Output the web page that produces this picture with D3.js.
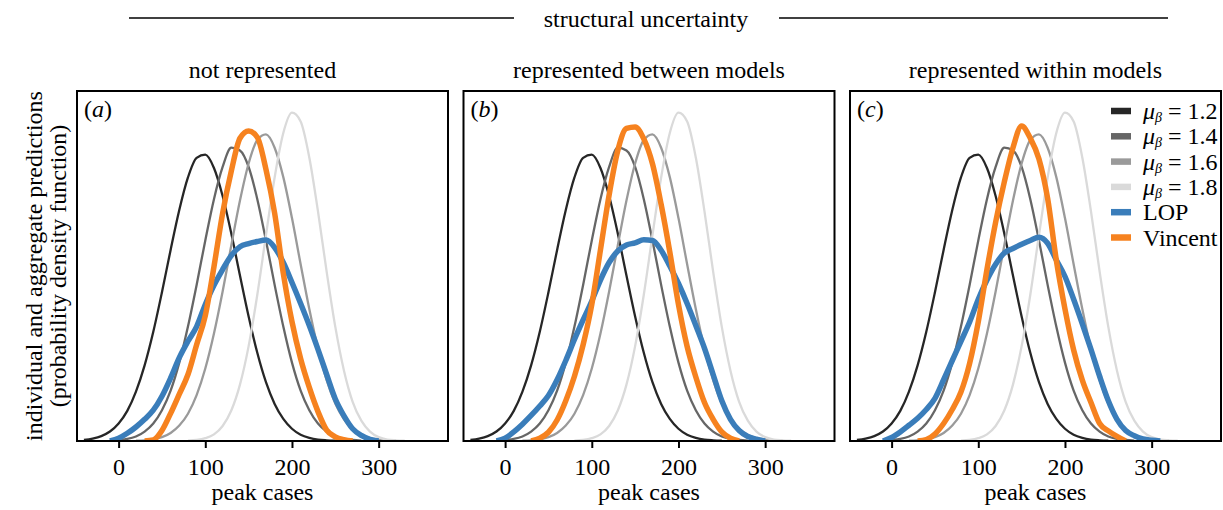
<!DOCTYPE html>
<html lang="en">
<head>
<meta charset="utf-8">
<style>
    body { margin: 0; background: #fff; }
    svg { display: block; font-family: "Liberation Serif", "DejaVu Serif", serif; }
</style>
</head>
<body>

<script type='text/javascript' src='https://d3js.org/d3.v7.min.js'></script>

<svg width="1223" height="510"></svg>

<script>
    // peak cases grid (x) shared by every curve
    var peakCases = [-40, -30, -20, -10, 0, 10, 20, 30, 40, 50, 60, 70, 80, 90, 100, 110, 120, 130, 140,
        150, 160, 170, 180, 190, 200, 210, 220, 230, 240, 250, 260, 270, 280, 290, 300, 310, 320, 330];

    // individual model densities (same in every panel), null = not drawn
    var mu12 = [0.003, 0.007, 0.014, 0.027, 0.050, 0.086, 0.141, 0.216, 0.312, 0.425, 0.546, 0.660, 0.753, 0.809,
        0.818, 0.780, 0.700, 0.593, 0.473, 0.356, 0.252, 0.168, 0.106, 0.063, 0.035, 0.018, 0.009, 0.004, 0.002, 0.001,
        null, null, null, null, null, null, null, null];
    var mu14 = [null, null, null, 0.001, 0.003, 0.006, 0.013, 0.027, 0.050, 0.088, 0.144, 0.224, 0.327, 0.446,
        0.573, 0.691, 0.783, 0.838, 0.830, 0.783, 0.691, 0.573, 0.446, 0.327, 0.224, 0.144, 0.088, 0.050, 0.027, 0.013,
        0.006, 0.003, 0.001, null, null, null, null, null];
    var mu16 = [null, null, null, null, null, null, 0.001, 0.002, 0.005, 0.011, 0.023, 0.044, 0.078, 0.131,
        0.207, 0.307, 0.427, 0.559, 0.687, 0.793, 0.860, 0.876, 0.838, 0.754, 0.637, 0.505, 0.377, 0.264, 0.174, 0.107,
        0.062, 0.034, 0.017, 0.008, 0.004, 0.002, 0.001, null];
    var mu18 = [null, null, null, null, null, null, null, null, null, null, null, null, 0.001, 0.003,
        0.008, 0.019, 0.043, 0.087, 0.161, 0.271, 0.418, 0.588, 0.753, 0.880, 0.938, 0.913, 0.810, 0.656, 0.484, 0.326,
        0.201, 0.112, 0.058, 0.027, 0.011, 0.004, 0.002, 0.001];

    // aggregate predictions per panel
    var lopA = [null, null, null, 0, 0.008, 0.022, 0.040, 0.062, 0.088, 0.128, 0.180, 0.238, 0.285, 0.327,
        0.390, 0.445, 0.490, 0.530, 0.555, 0.564, 0.570, 0.574, 0.553, 0.510, 0.453, 0.393, 0.330, 0.262, 0.190, 0.120,
        0.072, 0.035, 0.016, 0.005, 0, null, null, null];
    var vincentA = [null, null, null, null, null, null, null, 0, 0.003, 0.030, 0.079, 0.134, 0.190, 0.275,
        0.358, 0.498, 0.651, 0.771, 0.865, 0.886, 0.868, 0.776, 0.651, 0.479, 0.341, 0.235, 0.153, 0.084, 0.031, 0.012,
        0.004, 0, null, null, null, null, null, null];
    var lopB = [null, null, null, 0, 0.008, 0.026, 0.048, 0.073, 0.100, 0.130, 0.175, 0.230, 0.290, 0.346,
        0.400, 0.460, 0.510, 0.543, 0.560, 0.566, 0.575, 0.573, 0.545, 0.500, 0.450, 0.393, 0.330, 0.265, 0.190, 0.115,
        0.062, 0.030, 0.013, 0.005, 0, null, null, null];
    var vincentB = [null, null, null, null, null, null, null, 0, 0.008, 0.025, 0.060, 0.115, 0.185, 0.275,
        0.390, 0.546, 0.703, 0.830, 0.893, 0.897, 0.863, 0.792, 0.676, 0.540, 0.390, 0.270, 0.183, 0.110, 0.062, 0.026,
        0.008, 0, null, null, null, null, null, null];
    var lopC = [null, null, null, 0, 0.010, 0.026, 0.045, 0.065, 0.090, 0.122, 0.175, 0.230, 0.285, 0.340,
        0.405, 0.460, 0.505, 0.537, 0.550, 0.562, 0.573, 0.582, 0.565, 0.517, 0.470, 0.405, 0.335, 0.262, 0.185, 0.115,
        0.062, 0.030, 0.015, 0.006, 0.002, 0, null, null];
    var vincentC = [null, null, null, null, null, null, null, 0, 0.004, 0.020, 0.050, 0.090, 0.140, 0.222,
        0.341, 0.490, 0.625, 0.740, 0.838, 0.900, 0.865, 0.806, 0.693, 0.517, 0.377, 0.260, 0.174, 0.110, 0.050, 0.029,
        0.013, 0, null, null, null, null, null, null];

    var panelTitles = ["not represented", "represented between models", "represented within models"];
    var panelTags = ["a", "b", "c"];
    var xTicks = [0, 100, 200, 300];
    var muLabels = ["1.2", "1.4", "1.6", "1.8"];
    var aggLabels = ["LOP", "Vincent"];

    var greys = ["#262626", "#666666", "#9a9a9a", "#dadada"];
    var blue = "#3a7dba";
    var orange = "#f6821f";

    var panels = [
        { lop: lopA, vincent: vincentA },
        { lop: lopB, vincent: vincentB },
        { lop: lopC, vincent: vincentC }
    ];

    var svg = d3.select("svg");
    var fontSize = 24;
    var panelLeft = [77, 463.5, 850];
    var panelTop = 91;
    var width = 371;
    var height = 350;

    var x = d3.scaleLinear().domain([-48, 380]).range([0, width]);
    var y = d3.scaleLinear().domain([0, 1]).range([height, 0]);

    function toPoints(vals) {
        return peakCases.map(function (c, i) { return [c, vals[i]]; });
    }

    var line = d3.line()
        .defined(function (d) { return d[1] != null; })
        .x(function (d) { return x(d[0]); })
        .y(function (d) { return y(d[1]); })
        .curve(d3.curveMonotoneX);

    // top header
    svg.append("text")
        .attr("x", 646).attr("y", 27)
        .attr("text-anchor", "middle")
        .attr("font-size", fontSize)
        .text("structural uncertainty");
    svg.append("line").attr("x1", 129).attr("x2", 514).attr("y1", 18).attr("y2", 18)
        .attr("stroke", "#000").attr("stroke-width", 1.5);
    svg.append("line").attr("x1", 779).attr("x2", 1168).attr("y1", 18).attr("y2", 18)
        .attr("stroke", "#000").attr("stroke-width", 1.5);

    // y label
    var yl = svg.append("text")
        .attr("transform", "translate(0," + (panelTop + height / 2) + ") rotate(-90)")
        .attr("text-anchor", "middle")
        .attr("font-size", fontSize);
    yl.append("tspan").attr("x", 0).attr("y", 42).text("individual and aggregate predictions");
    yl.append("tspan").attr("x", 0).attr("y", 66).text("(probability density function)");

    svg.append("defs").append("clipPath").attr("id", "plotclip")
        .append("rect").attr("width", width).attr("height", height);

    panels.forEach(function (p, k) {
        var g = svg.append("g")
            .attr("transform", "translate(" + panelLeft[k] + "," + panelTop + ")");

        g.append("text")
            .attr("x", width / 2).attr("y", -13)
            .attr("text-anchor", "middle")
            .attr("font-size", fontSize)
            .text(panelTitles[k]);

        var curves = g.append("g").attr("clip-path", "url(#plotclip)");
        [mu12, mu14, mu16, mu18].forEach(function (s, i) {
            curves.append("path")
                .attr("d", line(toPoints(s)))
                .attr("fill", "none")
                .attr("stroke", greys[i])
                .attr("stroke-width", 2.3);
        });
        curves.append("path")
            .attr("d", line(toPoints(p.lop)))
            .attr("fill", "none")
            .attr("stroke", blue)
            .attr("stroke-width", 5.5)
            .attr("stroke-linejoin", "round");
        curves.append("path")
            .attr("d", line(toPoints(p.vincent)))
            .attr("fill", "none")
            .attr("stroke", orange)
            .attr("stroke-width", 5.5)
            .attr("stroke-linejoin", "round");

        var ax = g.append("g")
            .attr("transform", "translate(0," + height + ")")
            .call(d3.axisBottom(x).tickValues(xTicks).tickSize(7).tickPadding(10));
        ax.select(".domain").remove();
        ax.selectAll(".tick line").attr("stroke", "#000").attr("stroke-width", 2);
        ax.selectAll(".tick text")
            .attr("font-size", fontSize)
            .attr("font-family", "Liberation Serif, serif")
            .attr("fill", "#000");

        g.append("text")
            .attr("x", width / 2).attr("y", height + 59)
            .attr("text-anchor", "middle")
            .attr("font-size", fontSize)
            .text("peak cases");

        var tag = g.append("text")
            .attr("x", 7).attr("y", 26)
            .attr("font-size", fontSize);
        tag.append("tspan").text("(");
        tag.append("tspan").attr("font-style", "italic").text(panelTags[k]);
        tag.append("tspan").text(")");

        g.append("rect")
            .attr("width", width).attr("height", height)
            .attr("fill", "none")
            .attr("stroke", "#000")
            .attr("stroke-width", 2);

        if (k === 2) {
            var lg = g.append("g").attr("transform", "translate(261,20)");
            var items = muLabels.map(function (m, i) { return { c: greys[i], mu: m }; })
                .concat(aggLabels.map(function (a, i) { return { c: [blue, orange][i], name: a }; }));
            items.forEach(function (it, i) {
                var row = lg.append("g").attr("transform", "translate(0," + (i * 25.3) + ")");
                row.append("line")
                    .attr("x1", 0).attr("x2", 20)
                    .attr("stroke", it.c).attr("stroke-width", 6.5);
                var t = row.append("text")
                    .attr("x", 32).attr("y", 8)
                    .attr("font-size", fontSize);
                if (it.mu) {
                    t.append("tspan").attr("font-style", "italic").text("μ");
                    t.append("tspan").attr("font-style", "italic").attr("font-size", 14).attr("dy", 3).text("β");
                    t.append("tspan").attr("dy", -3).text(" = " + it.mu);
                } else {
                    t.text(it.name);
                }
            });
        }
    });
</script>
</body>
</html>
